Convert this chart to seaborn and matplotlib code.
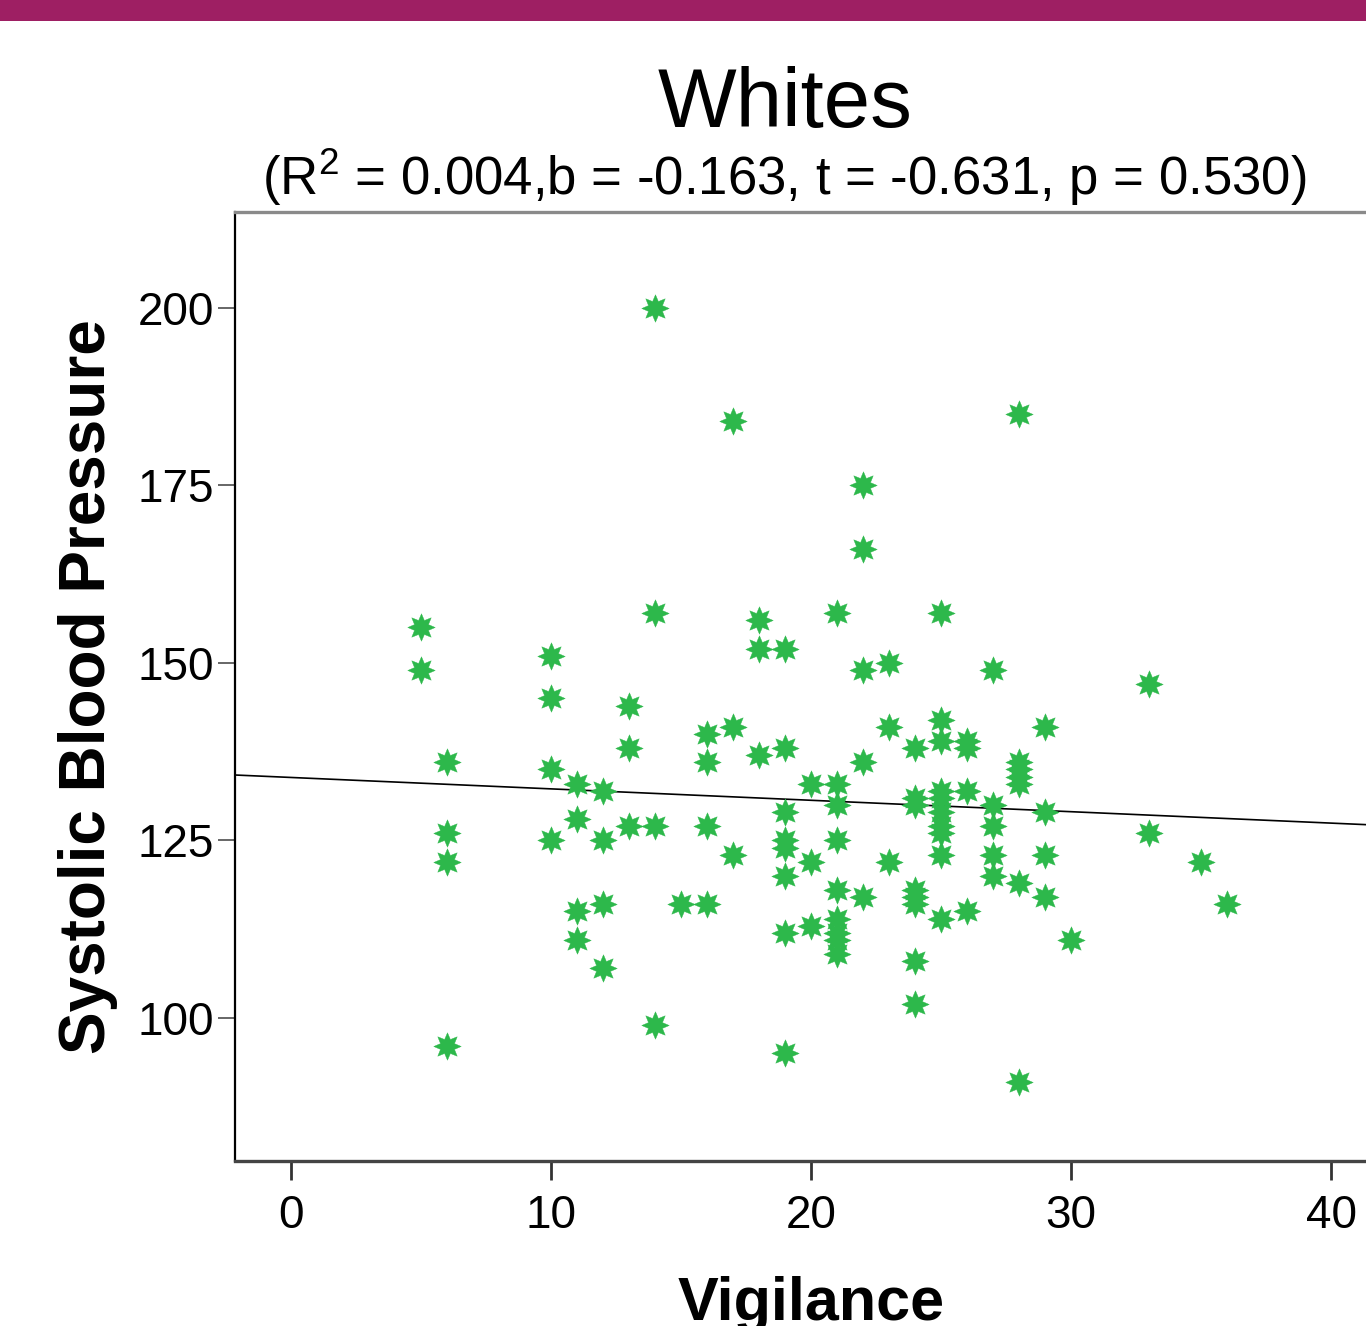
import matplotlib
matplotlib.use("Agg")
import matplotlib.pyplot as plt
import seaborn as sns
import pandas as pd
from matplotlib.path import Path
from matplotlib.patches import Rectangle

# ---- data ----
vigilance = ([5] * 2 + [6] * 4 + [10] * 4 + [11] * 4 + [12] * 4 + [13] * 3 + [14] * 4 +
             [15] * 1 + [16] * 4 + [17] * 3 + [18] * 3 + [19] * 8 + [20] * 3 + [21] * 9 +
             [22] * 5 + [23] * 3 + [24] * 8 + [25] * 10 + [26] * 4 + [27] * 5 + [28] * 7 +
             [29] * 4 + [30] * 1 + [33] * 2 + [35] * 1 + [36] * 1)
systolic = [155, 149,
            136, 126, 122, 96,
            151, 145, 135, 125,
            133, 128, 115, 111,
            132, 125, 116, 107,
            144, 138, 127,
            200, 157, 127, 99,
            116,
            140, 136, 127, 116,
            184, 141, 123,
            156, 152, 137,
            152, 138, 129, 125, 124, 120, 112, 95,
            133, 122, 113,
            157, 133, 130, 125, 118, 114, 112, 111, 109,
            175, 166, 149, 136, 117,
            150, 141, 122,
            138, 131, 130, 118, 117, 116, 108, 102,
            157, 142, 139, 132, 131, 129, 127, 126, 123, 114,
            139, 138, 132, 115,
            149, 130, 127, 123, 120,
            185, 136, 135, 134, 133, 119, 91,
            141, 129, 123, 117,
            111,
            147, 126,
            122,
            116]
x_ticks = [0, 10, 20, 30, 40]
y_ticks = [100, 125, 150, 175, 200]
title = "Whites"
subtitle = "(R$^{2}$ = 0.004,b = -0.163, t = -0.631, p = 0.530)"
x_label = "Vigilance"
y_label = "Systolic Blood Pressure"

df = pd.DataFrame({"Vigilance": vigilance, "SBP": systolic})

sns.set_style("white")
plt.rcParams["font.family"] = ["Liberation Sans", "DejaVu Sans"]
plt.rcParams["text.color"] = "black"
plt.rcParams["axes.labelcolor"] = "black"
plt.rcParams["mathtext.fontset"] = "custom"
plt.rcParams["mathtext.rm"] = "Liberation Sans"
plt.rcParams["mathtext.it"] = "Liberation Sans"
plt.rcParams["mathtext.bf"] = "Liberation Sans:bold"

W, H = 1366, 1326
fig = plt.figure(figsize=(W / 100, H / 100), dpi=100)
fig.patch.set_facecolor("white")

# purple band at the top
fig.patches.append(Rectangle((0, 1 - 21 / H), 1, 21 / H, transform=fig.transFigure,
                             facecolor="#9E1F63", edgecolor="none", zorder=0))

ax = fig.add_axes([235 / W, (H - 1161) / H, 1152 / W, (1161 - 212) / H])
ax.set_xlim(-2.154, 42.15)
ax.set_ylim(79.86, 213.5)

star = Path.unit_regular_star(8, 0.55)
sns.scatterplot(data=df, x="Vigilance", y="SBP", ax=ax, marker=star, s=390,
                color="#2DB84B", edgecolor="#2DB84B", linewidth=0.3, zorder=3)
sns.regplot(data=df, x="Vigilance", y="SBP", ax=ax, scatter=False, ci=None,
            truncate=False, line_kws={"color": "black", "lw": 1.2, "zorder": 2})

ax.set_xticks(x_ticks)
ax.set_yticks(y_ticks)
ax.tick_params(axis="both", which="major", labelsize=33, colors="black")
ax.tick_params(axis="x", length=14, width=2, pad=10, color="#333333", direction="out", bottom=True)
ax.tick_params(axis="y", length=12, width=1.4, pad=3, color="#666666", direction="out", left=True)

for side in ["left", "bottom", "top", "right"]:
    ax.spines[side].set_visible(True)
ax.spines["left"].set_color("black")
ax.spines["left"].set_linewidth(1.6)
ax.spines["bottom"].set_color("#444444")
ax.spines["bottom"].set_linewidth(2.4)
ax.spines["top"].set_color("#8a8a8a")
ax.spines["top"].set_linewidth(2.4)
ax.spines["right"].set_visible(False)

ax.set_xlabel(x_label, fontsize=44, fontweight="bold", labelpad=27)
ax.set_ylabel(y_label, fontsize=46, fontweight="bold", labelpad=14)
ax.grid(False)

fig.text(785 / W, 1 - 127 / H, title, fontsize=60, ha="center", va="baseline")
fig.text(784 / W, 1 - 195 / H, subtitle, fontsize=38, ha="center", va="baseline")

fig.savefig("out.png", dpi=100, facecolor="white")
